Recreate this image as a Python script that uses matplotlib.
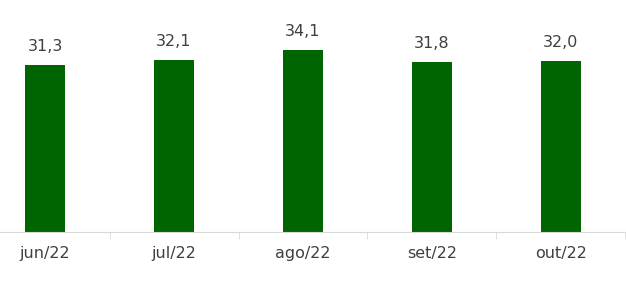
import matplotlib
matplotlib.use("Agg")
import matplotlib.pyplot as plt

# dados
meses = ["jun/22", "jul/22", "ago/22", "set/22", "out/22"]
valores = [31.3, 32.1, 34.1, 31.8, 32.0]

verde = "#006400"
cinza_txt = "#404040"
cinza_eixo = "#d9d9d9"

fig = plt.figure(figsize=(6.26, 2.84), dpi=100)
ax = fig.add_axes([0, 0.183, 1, 0.817])

x = list(range(len(meses)))
bars = ax.bar(x, valores, width=0.31, color=verde)

for xi, v in zip(x, valores):
    ax.annotate(f"{v:.1f}".replace(".", ","), (xi, v), xytext=(0, 8),
                textcoords="offset points", ha="center", va="bottom",
                fontsize=11.5, color=cinza_txt)

ax.set_xlim(-0.349, 4.504)
ax.set_ylim(0, 43.4)

# rótulos das categorias, marcas entre elas
ax.set_xticks(x)
ax.set_xticklabels(meses, fontsize=11.5, color=cinza_txt)
ax.tick_params(axis="x", which="major", length=0, pad=10)
ax.set_xticks([i + 0.5 for i in range(len(meses))], minor=True)
ax.tick_params(axis="x", which="minor", length=5, color=cinza_eixo)
ax.set_yticks([])

for s in ["top", "left", "right"]:
    ax.spines[s].set_visible(False)
ax.spines["bottom"].set_color(cinza_eixo)

fig.savefig("out.png", dpi=100)
